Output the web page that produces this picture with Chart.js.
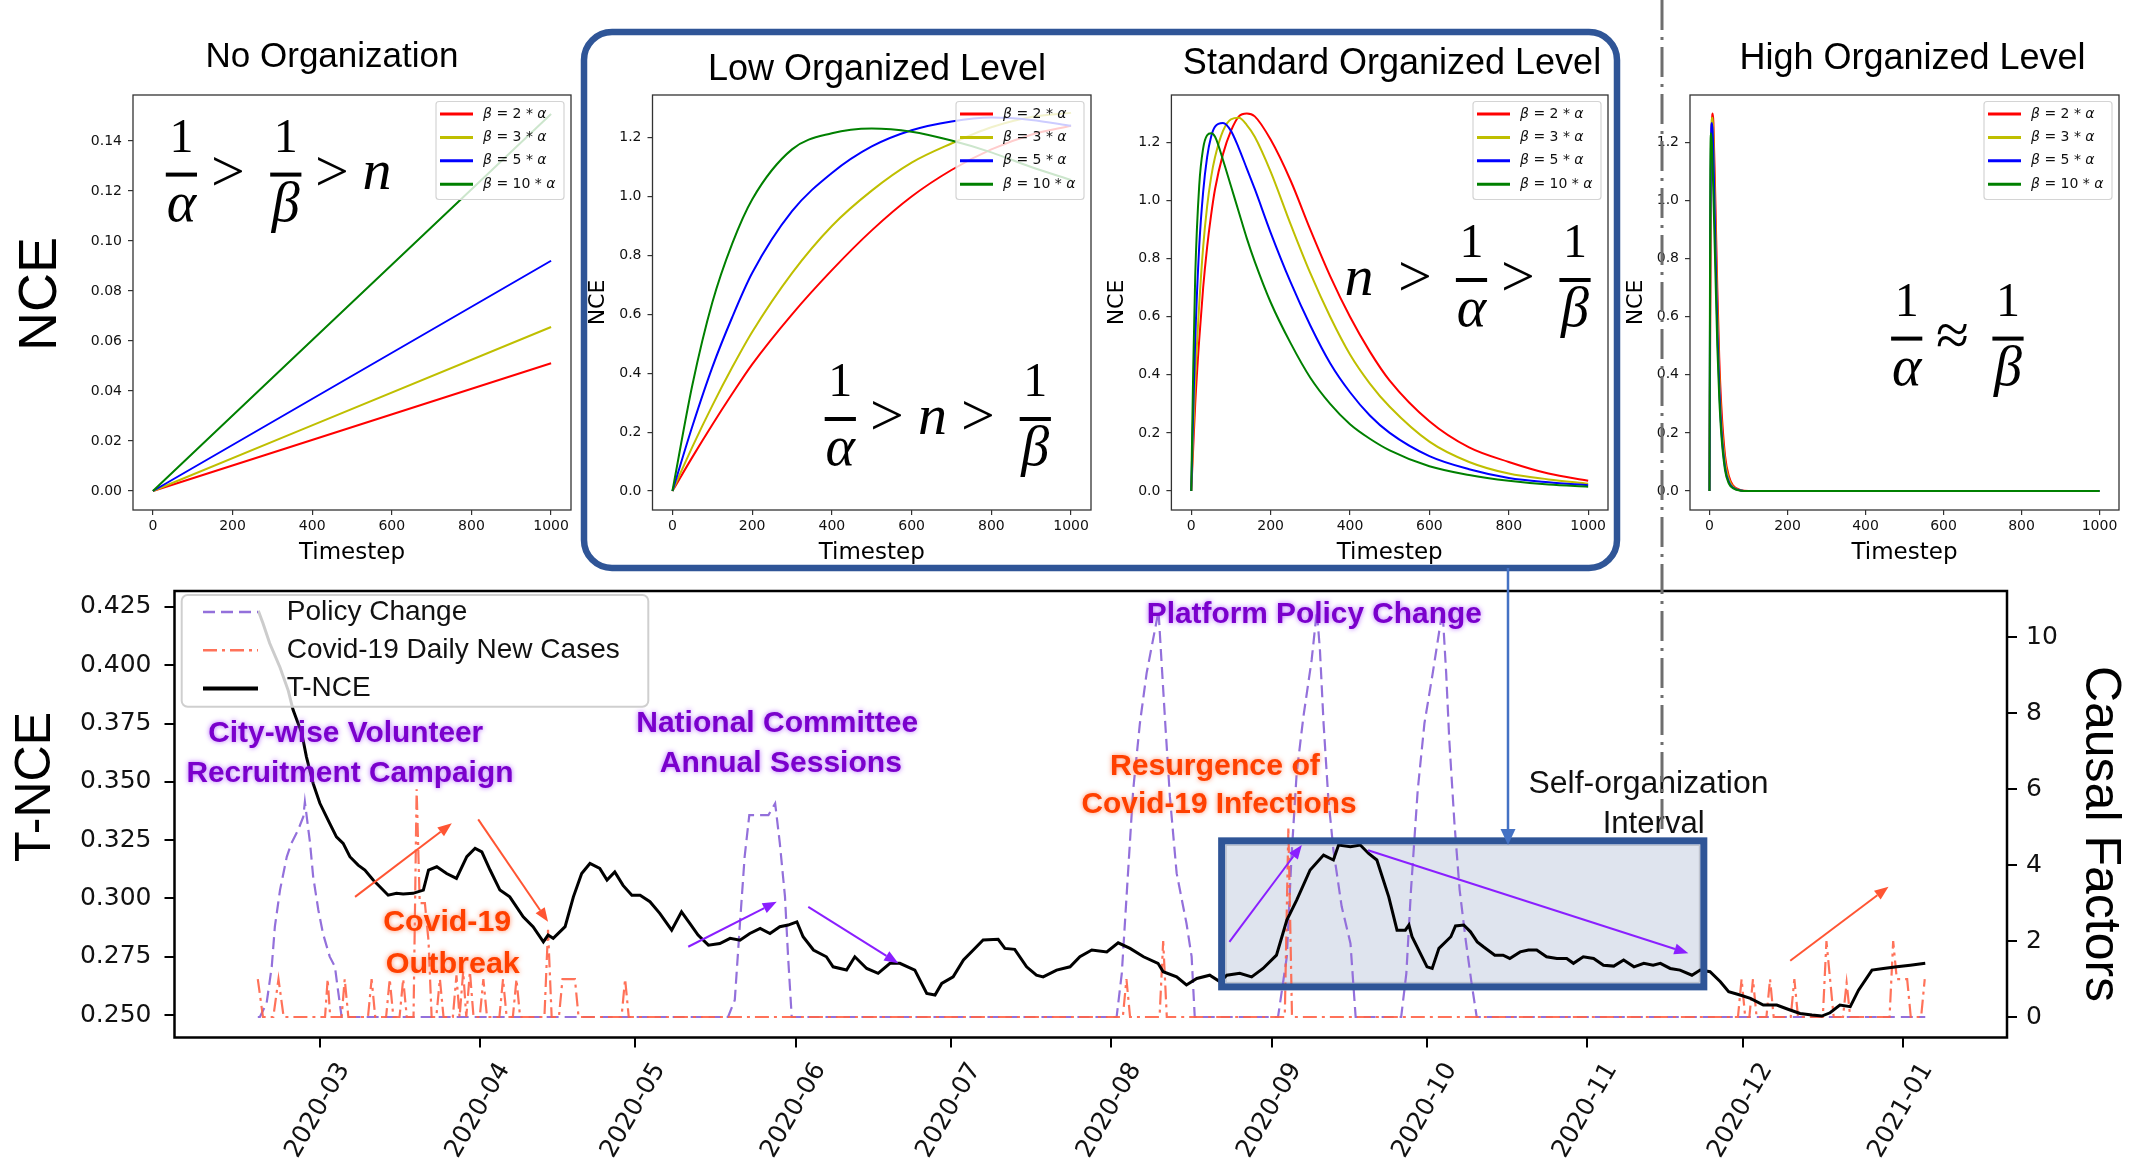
<!DOCTYPE html>
<html>
<head>
<meta charset="utf-8">
<script src="https://cdn.jsdelivr.net/npm/chart.js@4.4.1/dist/chart.umd.min.js"></script>
<style>
html, body { margin: 0; padding: 0; background: #fff; }
#fig { position: relative; width: 2131px; height: 1165px; overflow: hidden; }
#fig canvas { position: absolute; left: 0; top: 0; }
</style>
</head>
<body>
<div id="fig">
  <canvas id="pNoOrg" width="2131" height="1165"></canvas>
  <canvas id="pLow" width="2131" height="1165"></canvas>
  <canvas id="pStd" width="2131" height="1165"></canvas>
  <canvas id="pHigh" width="2131" height="1165"></canvas>
  <canvas id="pTnce" width="2131" height="1165"></canvas>
</div>
<script>
const FIG_W = 2131, FIG_H = 1165;

// ---- top panels: NCE vs timestep
const stepTicks = [0, 200, 400, 600, 800, 1000];
const betaFactors = ['2', '3', '5', '10'];
const betaColors = ['#ff0000', '#bfbf00', '#0000ff', '#008000'];

const noOrgSteps = [0, 1000];
const noOrgB2 = [0, 0.0511];
const noOrgB3 = [0, 0.0656];
const noOrgB5 = [0, 0.0921];
const noOrgB10 = [0, 0.1508];
const noOrgTicks = [0, 0.02, 0.04, 0.06, 0.08, 0.10, 0.12, 0.14];

const lowSteps = [0, 50, 100, 150, 200, 300, 400, 500, 600, 700, 800, 900, 1000];
const lowB2 = [0, 0.115, 0.225, 0.33, 0.43, 0.60, 0.75, 0.885, 1.0, 1.09, 1.16, 1.21, 1.24];
const lowB3 = [0, 0.15, 0.29, 0.42, 0.54, 0.74, 0.90, 1.02, 1.115, 1.18, 1.235, 1.27, 1.284];
const lowB5 = [0, 0.22, 0.42, 0.59, 0.74, 0.95, 1.08, 1.17, 1.225, 1.255, 1.268, 1.26, 1.24];
const lowB10 = [0, 0.36, 0.64, 0.84, 0.99, 1.16, 1.215, 1.231, 1.22, 1.19, 1.15, 1.10, 1.056];

const stdSteps = [0, 5, 10, 20, 30, 40, 50, 60, 80, 100, 120, 140, 160, 200, 250, 300, 350, 400, 450, 500, 600, 700, 800, 900, 1000];
const stdB2 = [0, 0.15, 0.3, 0.52, 0.7, 0.84, 0.95, 1.04, 1.16, 1.24, 1.29, 1.30, 1.29, 1.21, 1.07, 0.90, 0.74, 0.60, 0.48, 0.38, 0.24, 0.15, 0.10, 0.06, 0.035];
const stdB3 = [0, 0.2, 0.38, 0.64, 0.84, 0.98, 1.08, 1.15, 1.24, 1.28, 1.285, 1.26, 1.22, 1.10, 0.92, 0.75, 0.60, 0.47, 0.37, 0.29, 0.17, 0.10, 0.06, 0.04, 0.025];
const stdB5 = [0, 0.28, 0.52, 0.84, 1.03, 1.15, 1.22, 1.255, 1.267, 1.24, 1.18, 1.11, 1.04, 0.89, 0.72, 0.57, 0.44, 0.34, 0.26, 0.20, 0.12, 0.075, 0.045, 0.03, 0.02];
const stdB10 = [0, 0.42, 0.74, 1.05, 1.18, 1.225, 1.232, 1.22, 1.14, 1.05, 0.96, 0.87, 0.79, 0.65, 0.51, 0.39, 0.30, 0.23, 0.18, 0.14, 0.085, 0.055, 0.035, 0.022, 0.015];

const highSteps = [0, 2, 4, 6, 8, 10, 15, 20, 25, 30, 40, 50, 60, 80, 100, 1000];
const highB2 = [0, 0.6, 1.05, 1.25, 1.30, 1.27, 1.0, 0.70, 0.46, 0.30, 0.12, 0.05, 0.02, 0.003, 0, 0];
const highB3 = [0, 0.75, 1.15, 1.28, 1.285, 1.22, 0.92, 0.62, 0.40, 0.25, 0.10, 0.04, 0.015, 0.002, 0, 0];
const highB5 = [0, 0.9, 1.22, 1.267, 1.24, 1.16, 0.85, 0.56, 0.36, 0.22, 0.08, 0.03, 0.012, 0.002, 0, 0];
const highB10 = [0, 1.1, 1.232, 1.2, 1.12, 1.02, 0.76, 0.50, 0.32, 0.20, 0.07, 0.025, 0.01, 0.001, 0, 0];

const nceTicks = [0, 0.2, 0.4, 0.6, 0.8, 1.0, 1.2];

// ---- bottom panel: days counted from 2020-03-01
const monthTicks = [0, 31, 61, 92, 122, 153, 184, 214, 245, 275, 306];
const monthLabels = ['2020-03', '2020-04', '2020-05', '2020-06', '2020-07', '2020-08', '2020-09', '2020-10', '2020-11', '2020-12', '2021-01'];
const tnceTicks = [0.25, 0.275, 0.30, 0.325, 0.35, 0.375, 0.40, 0.425];
const causalTicks = [0, 2, 4, 6, 8, 10];

const tnceDays = [-11.9, -11.0, -9.7, -7.7, -6.1, -5.2, -3.5, -2.6, -1.3, 0,
  1.9, 3.2, 4.5, 5.8, 7.4, 8.7, 10.3, 11.6, 13.2, 14.8,
  16.1, 18.0, 20.0, 21.0, 22.6, 24.5, 26.4, 28.4, 30.0, 31.3,
  32.9, 34.8, 36.7, 39.3, 41.2, 43.2, 44.1, 45.1, 47.4, 49.0,
  50.6, 52.2, 54.1, 55.5, 57.0, 58.6, 60.3, 61.9, 63.8, 65.7,
  68.0, 69.9, 71.5, 73.1, 75.1, 77.3, 79.3, 81.2, 83.1, 85.1,
  87.0, 88.9, 90.5, 92.2, 93.4, 95.4, 97.9, 99.2, 101.8, 103.4,
  105.7, 107.9, 110.2, 112.1, 115.0, 117.3, 118.9, 120.2, 122.4, 124.4,
  126.3, 128.2, 131.1, 132.4, 134.3, 136.6, 138.5, 139.8, 142.4, 145.0,
  146.9, 149.2, 152.1, 154.3, 156.6, 159.2, 162.0, 163.0, 165.6, 167.5,
  169.5, 172.0, 174.0, 175.3, 177.8, 180.1, 182.3, 184.9, 186.9, 188.8,
  191.4, 194.0, 195.9, 196.9, 199.2, 201.1, 202.7, 204.3, 206.6, 208.2,
  209.8, 210.5, 211.1, 214.0, 215.0, 216.3, 218.6, 219.5, 221.1, 222.4,
  223.7, 224.9, 227.1, 228.7, 230.0, 232.0, 233.6, 235.2, 237.1, 239.1,
  241.0, 242.3, 244.2, 246.2, 248.1, 250.1, 252.0, 254.0, 255.9, 257.7,
  259.1, 261.0, 262.9, 265.2, 266.8, 268.7, 270.7, 272.3, 274.5, 276.5,
  279.0, 281.6, 283.9, 286.1, 288.4, 290.3, 291.9, 293.8, 295.8, 297.4,
  300.0, 302.2, 304.8, 307.4, 310.3];
const tnceVals = [0.4233, 0.418, 0.4094, 0.399, 0.389, 0.381, 0.3708, 0.3607, 0.3493, 0.3408,
  0.3322, 0.3264, 0.3236, 0.3179, 0.3143, 0.3122, 0.3079, 0.305, 0.3014, 0.3022,
  0.3019, 0.3022, 0.3036, 0.3122, 0.3136, 0.3107, 0.3086, 0.3179, 0.3215, 0.3200,
  0.3122, 0.3036, 0.3007, 0.2921, 0.2879, 0.2814, 0.2843, 0.2829, 0.2879, 0.3007,
  0.3107, 0.315, 0.3129, 0.3079, 0.3114, 0.3056, 0.3014, 0.3014, 0.2986, 0.2936,
  0.2864, 0.2943, 0.2893, 0.2843, 0.2800, 0.2807, 0.2829, 0.2821, 0.285, 0.2872,
  0.285, 0.2879, 0.2886, 0.29, 0.2836, 0.2779, 0.275, 0.2707, 0.2693, 0.275,
  0.27, 0.2679, 0.2722, 0.2722, 0.2693, 0.2593, 0.2586, 0.2636, 0.2664, 0.2736,
  0.2779, 0.2822, 0.2825, 0.2786, 0.2782, 0.2707, 0.2671, 0.2664, 0.2693, 0.2707,
  0.275, 0.2779, 0.2771, 0.2810, 0.2786, 0.275, 0.2722, 0.2686, 0.2664, 0.2629,
  0.2657, 0.2671, 0.2643, 0.2671, 0.2679, 0.2664, 0.27, 0.2757, 0.2907, 0.2993,
  0.3122, 0.3186, 0.3165, 0.3229, 0.3222, 0.3229, 0.3193, 0.3165, 0.3007, 0.2864,
  0.2864, 0.2886, 0.2836, 0.2707, 0.27, 0.2786, 0.2836, 0.2882, 0.2886, 0.2857,
  0.2814, 0.2793, 0.2757, 0.2757, 0.2743, 0.2771, 0.2779, 0.2779, 0.275, 0.2743,
  0.2743, 0.2722, 0.275, 0.2743, 0.2714, 0.2710, 0.2736, 0.2707, 0.2722, 0.2714,
  0.2722, 0.27, 0.2693, 0.2671, 0.2693, 0.2686, 0.2643, 0.26, 0.2586, 0.2572,
  0.2543, 0.2543, 0.2524, 0.2507, 0.25, 0.2496, 0.251, 0.2543, 0.2536, 0.2607,
  0.2693, 0.27, 0.2707, 0.2714, 0.2722];

const policyDays = [-12, -11.6, -10.3, -9.3, -8.7, -7.7, -6.4, -5.5, -4.2, -3.2,
  -2.9, -1.9, -1.3, -0.3, 0.6, 1.9, 2.9, 3.5, 4.2, 78.9,
  80.2, 81.2, 82.1, 83.0, 86.7, 88.0, 88.9, 89.9, 90.5, 91.2,
  154.0, 155.0, 156.0, 157.2, 158.5, 159.8, 161.4, 162.1, 162.7, 163.4,
  164.3, 165.6, 167.5, 168.5, 169.1, 185.2, 186.9, 187.8, 188.8, 190.1,
  191.7, 192.7, 193.3, 194.0, 194.9, 195.9, 197.5, 199.2, 200.2, 209.0,
  210.0, 210.9, 212.2, 213.5, 215.1, 216.4, 217.0, 217.7, 218.3, 219.3,
  220.3, 221.5, 222.6, 223.6, 310.3];
const policyVals = [0, 0, 0.36, 1.33, 2.38, 3.35, 4.22, 4.58, 4.93, 5.28,
  5.67, 4.58, 3.7, 2.82, 2.2, 1.59, 1.33, 0.71, 0, 0,
  0.45, 2.47, 4.22, 5.32, 5.32, 5.63, 4.58, 3.17, 1.59, 0,
  0, 1.15, 3.35, 5.98, 7.74, 9.06, 10.2, 10.7, 9.32, 7.74,
  5.80, 3.79, 2.47, 1.59, 0, 0, 1.59, 4.22, 6.42, 7.91,
  9.41, 10.7, 9.67, 7.74, 5.80, 4.40, 2.91, 1.94, 0, 0,
  1.15, 3.35, 5.98, 7.74, 9.06, 10.2, 10.7, 9.06, 7.30, 5.10,
  3.35, 2.0, 0.9, 0, 0];

const covidDays = [-12, -11, -9, -8, -7, 1, 1.5, 2, 4.2, 4.8,
  5.5, 9.3, 10, 10.7, 12.8, 13.5, 14.2, 15.4, 16.1, 16.8,
  18.1, 18.7, 19.3, 20.3, 21, 21.6, 22.5, 23.2, 23.9, 25.7,
  26.4, 27, 27.7, 28.3, 29, 29.7, 30.9, 31.6, 32.3, 34.7,
  35.4, 36.1, 37.3, 38, 38.7, 43.4, 44.1, 44.8, 46.2, 46.9,
  49.3, 50, 58.3, 59, 59.7, 155.2, 155.9, 156.6, 162.3, 163,
  163.7, 186.5, 187.2, 187.9, 274.1, 274.8, 275.5, 276.3, 277, 277.7,
  279.6, 280.3, 281, 284.3, 285, 285.7, 290.5, 291.2, 291.9, 292.6,
  294.4, 295.1, 295.8, 303.4, 304.1, 304.8, 306.8, 307.5, 309.5, 310.2];
const covidVals = [1, 0, 0, 1, 0, 0, 1, 0, 0, 1,
  0, 0, 1, 0, 0, 1, 0, 0, 1, 0,
  0, 6, 3, 3, 2, 0, 0, 1, 0, 0,
  1.1, 0, 1.2, 0, 1.2, 0, 0, 1, 0, 0,
  1, 0, 0, 1, 0, 0, 2.3, 0, 0, 1,
  1, 0, 0, 1, 0, 0, 1, 0, 0, 2,
  0, 0, 5, 0, 0, 1, 0, 0, 1, 0,
  0, 1, 0, 0, 1, 0, 0, 2, 1, 0,
  0, 0.9, 0, 0, 2, 1, 1, 0, 0, 1];

// ---- drawing helpers
const SANS = '"Liberation Sans", Arial, sans-serif';
const DEJA = '"DejaVu Sans", sans-serif';
const SERIF = '"Liberation Serif", "Times New Roman", serif';

function pts(xs, ys) {
    return xs.map((x, i) => ({ x: x, y: ys[i] }));
}

function roundRectPath(ctx, x, y, w, h, r) {
    ctx.beginPath();
    ctx.moveTo(x + r, y);
    ctx.arcTo(x + w, y, x + w, y + h, r);
    ctx.arcTo(x + w, y + h, x, y + h, r);
    ctx.arcTo(x, y + h, x, y, r);
    ctx.arcTo(x, y, x + w, y, r);
    ctx.closePath();
}

function drawArrow(ctx, x1, y1, x2, y2, color, lw, headLen, headW) {
    const ang = Math.atan2(y2 - y1, x2 - x1);
    const bx = x2 - headLen * Math.cos(ang);
    const by = y2 - headLen * Math.sin(ang);
    ctx.save();
    ctx.strokeStyle = color;
    ctx.fillStyle = color;
    ctx.lineWidth = lw;
    ctx.setLineDash([]);
    ctx.beginPath();
    ctx.moveTo(x1, y1);
    ctx.lineTo(bx, by);
    ctx.stroke();
    ctx.beginPath();
    ctx.moveTo(x2, y2);
    ctx.lineTo(bx + headW / 2 * Math.sin(ang), by - headW / 2 * Math.cos(ang));
    ctx.lineTo(bx - headW / 2 * Math.sin(ang), by + headW / 2 * Math.cos(ang));
    ctx.closePath();
    ctx.fill();
    ctx.restore();
}

function rotText(ctx, s, cx, cy, font, angle) {
    ctx.save();
    ctx.translate(cx, cy);
    ctx.rotate(angle);
    ctx.font = font;
    ctx.fillStyle = '#000';
    ctx.textAlign = 'center';
    ctx.textBaseline = 'middle';
    ctx.fillText(s, 0, 0);
    ctx.restore();
}

function fitText(ctx, s, cx, cy, size, bold, color, targetW, glow) {
    ctx.save();
    ctx.font = (bold ? 'bold ' : '') + size + 'px ' + SANS;
    const mw = ctx.measureText(s).width;
    let k = targetW ? targetW / mw : 1;
    k = Math.max(0.85, Math.min(1.15, k));
    ctx.translate(cx, cy);
    ctx.scale(k, 1);
    ctx.textAlign = 'center';
    ctx.textBaseline = 'middle';
    if (glow) {
        ctx.shadowColor = glow;
        ctx.shadowBlur = 5;
    }
    ctx.fillStyle = color;
    ctx.fillText(s, 0, 0);
    ctx.restore();
}

// math like 1/α > n > 1/β
function drawMath(ctx, tokens, barY) {
    ctx.save();
    ctx.fillStyle = '#000';
    ctx.textAlign = 'center';
    ctx.textBaseline = 'alphabetic';
    tokens.forEach(tk => {
        if (tk.k === 'frac') {
            ctx.font = '48px ' + SERIF;
            ctx.fillText('1', tk.x, barY - 22.6);
            ctx.fillRect(tk.x - 15.6, barY - 2, 31.2, 4);
            ctx.font = 'italic 56px ' + SERIF;
            ctx.fillText(tk.d, tk.x, barY + 46);
        } else if (tk.k === 'op') {
            ctx.font = '60px ' + SERIF;
            ctx.fillText(tk.s, tk.x, barY + 16);
        } else {
            ctx.font = 'italic 58px ' + SERIF;
            ctx.fillText(tk.s, tk.x, barY + 14.5);
        }
    });
    ctx.restore();
}

function drawBetaLegend(ctx, area, datasets) {
    const bw = 128, bh = 98;
    const x0 = area.right - 7 - bw, y0 = area.top + 6.5;
    ctx.save();
    roundRectPath(ctx, x0, y0, bw, bh, 3);
    ctx.fillStyle = 'rgba(255,255,255,0.8)';
    ctx.fill();
    ctx.strokeStyle = '#d4d4d4';
    ctx.lineWidth = 1.2;
    ctx.stroke();
    datasets.forEach((ds, i) => {
        const y = y0 + 12.5 + i * 23.4;
        ctx.strokeStyle = ds.borderColor;
        ctx.lineWidth = 3;
        ctx.beginPath();
        ctx.moveTo(x0 + 4, y);
        ctx.lineTo(x0 + 37, y);
        ctx.stroke();
        ctx.fillStyle = '#111';
        ctx.textBaseline = 'middle';
        ctx.textAlign = 'left';
        const parts = [['β', true], [' = ' + betaFactors[i] + ' * ', false], ['α', true]];
        let cx = x0 + 47;
        parts.forEach(p => {
            ctx.font = (p[1] ? 'italic ' : '') + '14px ' + DEJA;
            ctx.fillText(p[0], cx, y);
            cx += ctx.measureText(p[0]).width;
        });
    });
    ctx.restore();
}

function topDecor(cfg) {
    return {
        id: 'topDecor',
        afterDraw(chart) {
            const ctx = chart.ctx, a = chart.chartArea;
            ctx.save();
            ctx.strokeStyle = '#333';
            ctx.lineWidth = 1.3;
            ctx.strokeRect(a.left, a.top, a.right - a.left, a.bottom - a.top);
            drawBetaLegend(ctx, a, chart.data.datasets);
            ctx.fillStyle = '#000';
            ctx.textAlign = 'center';
            ctx.textBaseline = 'alphabetic';
            ctx.font = cfg.titleSize + 'px ' + SANS;
            ctx.fillText(cfg.title, cfg.titleX, cfg.titleY);
            ctx.font = '23px ' + DEJA;
            ctx.fillText('Timestep', (a.left + a.right) / 2, 558.7);
            if (cfg.bigLabel) {
                rotText(ctx, 'NCE', 41, 294, '54px ' + SANS, -Math.PI / 2);
            } else {
                rotText(ctx, 'NCE', a.left - 54, (a.top + a.bottom) / 2, '22px ' + DEJA, -Math.PI / 2);
            }
            drawMath(ctx, cfg.math, cfg.barY);
            ctx.restore();
        }
    };
}

function makeTopPanel(canvasId, frame, steps, seriesList, yMin, yMax, yTicks, yDigits, cfg) {
    const datasets = seriesList.map((vals, i) => ({
        label: 'β = ' + betaFactors[i] + ' * α',
        data: pts(steps, vals),
        borderColor: betaColors[i],
        borderWidth: 2,
        pointRadius: 0,
        cubicInterpolationMode: 'monotone',
        order: seriesList.length - i
    }));
    const tickStyle = { font: { family: 'DejaVu Sans', size: 14 }, color: '#111' };
    const gridStyle = { drawOnChartArea: false, tickLength: 5, color: '#333', lineWidth: 1.2 };
    return new Chart(document.getElementById(canvasId), {
        type: 'line',
        data: { datasets },
        options: {
            responsive: false,
            animation: false,
            devicePixelRatio: 1,
            events: [],
            layout: { padding: { left: frame.l - 60, top: frame.t, right: FIG_W - frame.r, bottom: FIG_H - frame.b - 40 } },
            plugins: { legend: { display: false }, tooltip: { enabled: false } },
            scales: {
                x: {
                    type: 'linear', min: -50, max: 1050,
                    afterBuildTicks: s => { s.ticks = stepTicks.map(v => ({ value: v })); },
                    afterFit: s => { s.height = 40; },
                    ticks: Object.assign({ padding: 3, maxRotation: 0, autoSkip: false, callback: v => String(v) }, tickStyle),
                    grid: gridStyle,
                    border: { display: false }
                },
                y: {
                    type: 'linear', min: yMin, max: yMax,
                    afterBuildTicks: s => { s.ticks = yTicks.map(v => ({ value: v })); },
                    afterFit: s => { s.width = 60; },
                    ticks: Object.assign({ padding: 6, autoSkip: false, callback: v => v.toFixed(yDigits) }, tickStyle),
                    grid: gridStyle,
                    border: { display: false }
                }
            }
        },
        plugins: [topDecor(cfg)]
    });
}

makeTopPanel('pNoOrg', { l: 133, t: 95, r: 571, b: 510 }, noOrgSteps,
    [noOrgB2, noOrgB3, noOrgB5, noOrgB10], -0.0076, 0.1584, noOrgTicks, 2, {
        title: 'No Organization', titleSize: 35, titleX: 332, titleY: 66.6, bigLabel: true, barY: 174.6,
        math: [{ k: 'frac', d: 'α', x: 181.4 }, { k: 'op', s: '>', x: 228 }, { k: 'frac', d: 'β', x: 285.8 },
            { k: 'op', s: '>', x: 332 }, { k: 'var', s: 'n', x: 377 }]
    });

makeTopPanel('pLow', { l: 652.5, t: 95, r: 1091, b: 510 }, lowSteps,
    [lowB2, lowB3, lowB5, lowB10], -0.0645, 1.3447, nceTicks, 1, {
        title: 'Low Organized Level', titleSize: 36, titleX: 877, titleY: 79.6, bigLabel: false, barY: 419,
        math: [{ k: 'frac', d: 'α', x: 840.3 }, { k: 'op', s: '>', x: 887 }, { k: 'var', s: 'n', x: 932.6 },
            { k: 'op', s: '>', x: 978 }, { k: 'frac', d: 'β', x: 1035.3 }]
    });

makeTopPanel('pStd', { l: 1171.4, t: 95, r: 1608, b: 510 }, stdSteps,
    [stdB2, stdB3, stdB5, stdB10], -0.0654, 1.3636, nceTicks, 1, {
        title: 'Standard Organized Level', titleSize: 36, titleX: 1392, titleY: 74, bigLabel: false, barY: 280,
        math: [{ k: 'var', s: 'n', x: 1359 }, { k: 'op', s: '>', x: 1415 }, { k: 'frac', d: 'α', x: 1471.5 },
            { k: 'op', s: '>', x: 1518 }, { k: 'frac', d: 'β', x: 1575 }]
    });

makeTopPanel('pHigh', { l: 1690, t: 95, r: 2119, b: 510 }, highSteps,
    [highB2, highB3, highB5, highB10], -0.0654, 1.3636, nceTicks, 1, {
        title: 'High Organized Level', titleSize: 36, titleX: 1912.5, titleY: 68.5, bigLabel: false, barY: 338.6,
        math: [{ k: 'frac', d: 'α', x: 1906.7 }, { k: 'op', s: '≈', x: 1952.5 }, { k: 'frac', d: 'β', x: 2008 }]
    });

// ---- bottom panel annotations (day, T-NCE value)
const PURPLE = '#7a00cc', PURPLE_GLOW = 'rgba(175,90,255,0.9)';
const ORANGE = '#ff4000', ORANGE_GLOW = 'rgba(255,130,90,0.9)';
const ARROW_PURPLE = '#8a1fff', ARROW_RED = '#ff5533';

const noteTexts = [
    { s: 'City-wise Volunteer', d: 5.0, v: 0.3705, w: 275, c: PURPLE, g: PURPLE_GLOW, b: true },
    { s: 'Recruitment Campaign', d: 5.8, v: 0.3533, w: 327, c: PURPLE, g: PURPLE_GLOW, b: true },
    { s: 'Covid-19', d: 24.6, v: 0.2894, w: 128, c: ORANGE, g: ORANGE_GLOW, b: true },
    { s: 'Outbreak', d: 25.7, v: 0.2714, w: 134, c: ORANGE, g: ORANGE_GLOW, b: true },
    { s: 'National Committee', d: 88.4, v: 0.3748, w: 282, c: PURPLE, g: PURPLE_GLOW, b: true },
    { s: 'Annual Sessions', d: 89.1, v: 0.3576, w: 242, c: PURPLE, g: PURPLE_GLOW, b: true },
    { s: 'Platform Policy Change', d: 192.2, v: 0.4215, w: 335, c: PURPLE, g: PURPLE_GLOW, b: true },
    { s: 'Resurgence of', d: 173, v: 0.3565, w: 210, c: ORANGE, g: ORANGE_GLOW, b: true },
    { s: 'Covid-19 Infections', d: 173.8, v: 0.34, w: 275, c: ORANGE, g: ORANGE_GLOW, b: true },
    { s: 'Self-organization', d: 256.8, v: 0.349, w: 240, c: '#111', g: null, b: false },
    { s: 'Interval', d: 257.8, v: 0.3319, w: 102, c: '#111', g: null, b: false }
];

const noteArrows = [
    { from: [6.8, 0.3007], to: [25.5, 0.3322], c: ARROW_RED },
    { from: [30.6, 0.3339], to: [44.1, 0.2900], c: ARROW_RED },
    { from: [71.2, 0.2793], to: [88.3, 0.2986], c: ARROW_PURPLE },
    { from: [94.4, 0.2964], to: [111.8, 0.2722], c: ARROW_PURPLE },
    { from: [175.8, 0.2814], to: [189.8, 0.3229], c: ARROW_PURPLE },
    { from: [202.6, 0.3207], to: [264.5, 0.2765], c: ARROW_PURPLE },
    { from: [284.2, 0.2733], to: [303.2, 0.3050], c: ARROW_RED }
];

const intervalBox = { d0: 174.3, d1: 267.5, v0: 0.2621, v1: 0.3247 };

function boxPixels(chart) {
    const x = chart.scales.x, y = chart.scales.y;
    const l = x.getPixelForValue(intervalBox.d0), r = x.getPixelForValue(intervalBox.d1);
    const t = y.getPixelForValue(intervalBox.v1), b = y.getPixelForValue(intervalBox.v0);
    return { l, r, t, b };
}

const bottomDecor = {
    id: 'bottomDecor',
    beforeDatasetsDraw(chart) {
        const ctx = chart.ctx;
        const p = boxPixels(chart);
        ctx.save();
        ctx.fillStyle = '#dfe4ee';
        ctx.fillRect(p.l, p.t, p.r - p.l, p.b - p.t);
        ctx.strokeStyle = '#b9bdc8';
        ctx.lineWidth = 1;
        ctx.strokeRect(p.l + 4.5, p.t + 4.5, p.r - p.l - 9, p.b - p.t - 9);
        ctx.restore();
    },
    afterDatasetsDraw(chart) {
        const ctx = chart.ctx, x = chart.scales.x, y = chart.scales.y;
        const p = boxPixels(chart);
        ctx.save();
        ctx.strokeStyle = '#2f5597';
        ctx.lineWidth = 7;
        ctx.strokeRect(p.l, p.t, p.r - p.l, p.b - p.t);
        ctx.restore();
        noteArrows.forEach(ar => {
            drawArrow(ctx, x.getPixelForValue(ar.from[0]), y.getPixelForValue(ar.from[1]),
                x.getPixelForValue(ar.to[0]), y.getPixelForValue(ar.to[1]), ar.c, 2, 14, 11);
        });
        noteTexts.forEach(n => {
            fitText(ctx, n.s, x.getPixelForValue(n.d), y.getPixelForValue(n.v), n.b ? 30 : 31, n.b, n.c, n.w, n.g);
        });
    },
    afterDraw(chart) {
        const ctx = chart.ctx, a = chart.chartArea, x = chart.scales.x;
        ctx.save();
        ctx.strokeStyle = '#000';
        ctx.lineWidth = 2.5;
        ctx.strokeRect(a.left, a.top, a.right - a.left, a.bottom - a.top);

        // rotated month labels
        ctx.fillStyle = '#111';
        ctx.font = '25px ' + DEJA;
        ctx.textAlign = 'center';
        ctx.textBaseline = 'middle';
        monthTicks.forEach((d, i) => {
            ctx.save();
            ctx.translate(x.getPixelForValue(d) - 2, a.bottom + 73);
            ctx.rotate(-Math.PI / 3);
            ctx.fillText(monthLabels[i], 0, 0);
            ctx.restore();
        });
        rotText(ctx, 'T-NCE', 36, 787, '50px ' + SANS, -Math.PI / 2);
        rotText(ctx, 'Causal Factors', 2100, 834, '50px ' + SANS, Math.PI / 2);

        // legend
        roundRectPath(ctx, 181.7, 595, 466.6, 111.7, 6);
        ctx.fillStyle = 'rgba(255,255,255,0.8)';
        ctx.fill();
        ctx.strokeStyle = '#cfcfcf';
        ctx.lineWidth = 2;
        ctx.stroke();
        chart.data.datasets.forEach((ds, i) => {
            const ly = 612 + i * 38.3;
            ctx.save();
            ctx.strokeStyle = ds.borderColor;
            ctx.lineWidth = ds.legendWidth;
            ctx.setLineDash(ds.borderDash || []);
            ctx.beginPath();
            ctx.moveTo(203, ly);
            ctx.lineTo(258, ly);
            ctx.stroke();
            ctx.restore();
            ctx.fillStyle = '#111';
            ctx.font = '28px ' + SANS;
            ctx.textAlign = 'left';
            ctx.textBaseline = 'middle';
            ctx.fillText(ds.label, 286.7, ly);
        });

        // figure level decorations
        roundRectPath(ctx, 584, 32, 1033, 536, 28);
        ctx.strokeStyle = '#2f5597';
        ctx.lineWidth = 6.5;
        ctx.stroke();

        ctx.save();
        ctx.strokeStyle = '#6e6e6e';
        ctx.lineWidth = 3;
        ctx.setLineDash([30, 7, 3, 7]);
        ctx.beginPath();
        ctx.moveTo(1662, 0);
        ctx.lineTo(1662, 836);
        ctx.stroke();
        ctx.restore();

        drawArrow(ctx, 1508, 568, 1508, 845, '#4472c4', 2.5, 16, 15);
        ctx.restore();
    }
};

const axisTicks = { font: { family: 'DejaVu Sans', size: 25 }, color: '#111', autoSkip: false };
const axisGrid = { drawOnChartArea: false, tickLength: 10, color: '#000', lineWidth: 2 };

new Chart(document.getElementById('pTnce'), {
    type: 'line',
    data: {
        datasets: [
            {
                label: 'Policy Change', data: pts(policyDays, policyVals), yAxisID: 'y1',
                borderColor: '#9370db', borderDash: [12, 6], borderWidth: 2.2, legendWidth: 2.5,
                pointRadius: 0, tension: 0, order: 2
            },
            {
                label: 'Covid-19 Daily New Cases', data: pts(covidDays, covidVals), yAxisID: 'y1',
                borderColor: 'rgba(255,99,71,0.9)', borderDash: [14, 5, 3, 5], borderWidth: 2.2, legendWidth: 2.5,
                pointRadius: 0, tension: 0, order: 1
            },
            {
                label: 'T-NCE', data: pts(tnceDays, tnceVals), yAxisID: 'y',
                borderColor: '#000', borderWidth: 3, legendWidth: 4,
                pointRadius: 0, tension: 0, order: 0
            }
        ]
    },
    options: {
        responsive: false,
        animation: false,
        devicePixelRatio: 1,
        events: [],
        layout: { padding: { left: 174.5 - 115, top: 591, right: FIG_W - 2007 - 70, bottom: FIG_H - 1037.5 - 50 } },
        plugins: { legend: { display: false }, tooltip: { enabled: false } },
        scales: {
            x: {
                type: 'linear', min: -28.1, max: 326.1,
                afterBuildTicks: s => { s.ticks = monthTicks.map(v => ({ value: v })); },
                afterFit: s => { s.height = 50; },
                ticks: { display: false },
                grid: axisGrid,
                border: { display: false }
            },
            y: {
                type: 'linear', position: 'left', min: 0.2404, max: 0.4318,
                afterBuildTicks: s => { s.ticks = tnceTicks.map(v => ({ value: v })); },
                afterFit: s => { s.width = 115; },
                ticks: Object.assign({ padding: 13, callback: v => v.toFixed(3) }, axisTicks),
                grid: axisGrid,
                border: { display: false }
            },
            y1: {
                type: 'linear', position: 'right', min: -0.54, max: 11.225,
                afterBuildTicks: s => { s.ticks = causalTicks.map(v => ({ value: v })); },
                afterFit: s => { s.width = 70; },
                ticks: Object.assign({ padding: 9, callback: v => String(v) }, axisTicks),
                grid: axisGrid,
                border: { display: false }
            }
        }
    },
    plugins: [bottomDecor]
});
</script>
</body>
</html>
